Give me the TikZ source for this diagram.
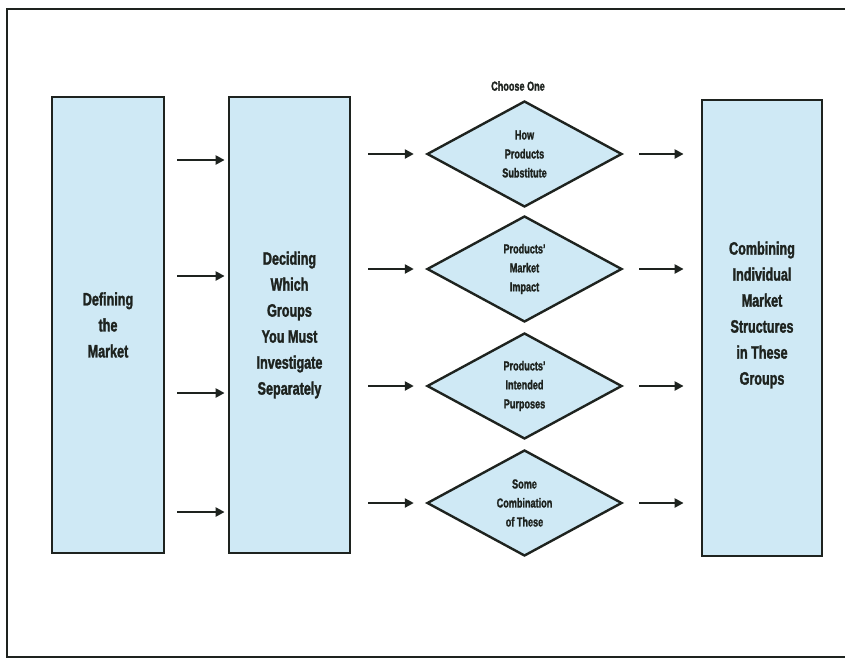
\documentclass[tikz,border=0pt]{standalone}
\usepackage{fontspec}
\setmainfont{Liberation Sans}[FakeStretch=0.7,BoldFeatures={FakeBold=1.6}]
\usetikzlibrary{shapes.geometric,arrows.meta,calc}
\definecolor{boxfill}{HTML}{CFE9F5}
\definecolor{ink}{HTML}{1E231F}
\begin{document}
\begin{tikzpicture}[x=1pt,y=-1pt,
  bigbox/.style={draw=ink,line width=2.8pt,fill=boxfill,minimum width=#1,minimum height=456pt,inner sep=0pt,
    font=\fontsize{18}{26}\selectfont\bfseries,text=ink,align=center},
  choice/.style={diamond,draw=ink,line width=2.4pt,fill=boxfill,minimum width=195pt,minimum height=106pt,inner sep=0pt,
    font=\fontsize{13}{19}\selectfont\bfseries,text=ink,align=center},
  arr/.style={draw=ink,line width=2.6pt,-{Triangle[length=9pt,width=9pt]}},
  lbl/.style={font=\fontsize{18}{26}\selectfont\bfseries,text=ink,align=center}]
\useasboundingbox (0,0) rectangle (845,659);
\draw[ink,line width=2.4pt] (846,9) -- (7,9) -- (7,657) -- (846,657);
% boxes
\node[bigbox=112pt] (b1) at (108,325) {Defining\\the\\Market};
\node[bigbox=121pt] (b2) at (289.5,325) {Deciding\\Which\\Groups\\You Must\\Investigate\\Separately};
\node[bigbox=120pt] (b3) at (762,328) {};
\node[lbl] (t3) at (762,315) {Combining\\Individual\\Market\\Structures\\in These\\Groups};
% diamonds
\node[font=\fontsize{13}{16}\selectfont\bfseries,text=ink] (ch) at (518,86) {Choose One};
\node[choice] (d1) at (524.5,154) {How\\Products\\Substitute};
\node[choice] (d2) at (524.5,269) {Products'\\Market\\Impact};
\node[choice] (d3) at (524.5,386) {Products'\\Intended\\Purposes};
\node[choice] (d4) at (524.5,503) {Some\\Combination\\of These};
% arrows box1 -> box2
\foreach \y [count=\i] in {160,276,393,512}{
  \coordinate (r\i) at (0,\y);
  \draw[arr,shorten <=12pt,shorten >=3pt] (b1.east|-r\i) -- (b2.west|-r\i);
}
% arrows box2 -> diamonds, diamonds -> box3
\foreach \i in {1,2,3,4}{
  \draw[arr,shorten <=17pt,shorten >=12pt] (b2.east|-d\i.west) -- (d\i.west);
  \draw[arr,shorten <=16pt,shorten >=17pt] (d\i.east) -- (b3.west|-d\i.east);
}
\end{tikzpicture}
\end{document}
